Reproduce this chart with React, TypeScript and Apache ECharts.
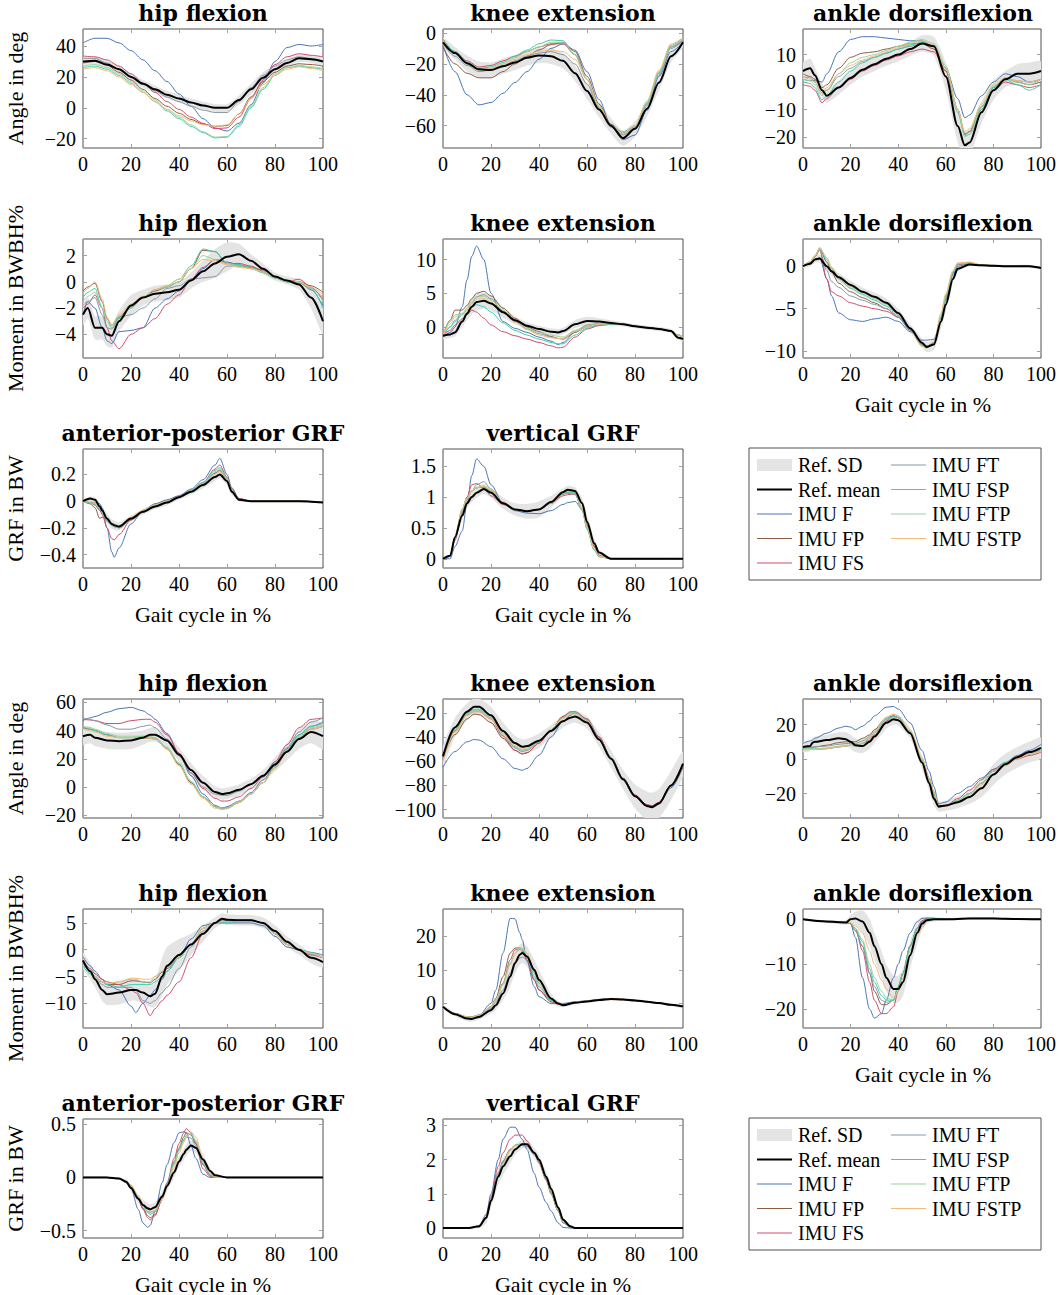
import React, { useEffect, useRef } from "react";
import * as echarts from "echarts";

// ---------- data (x = gait cycle %) ----------
// TOP block
const P1_x = [0, 5, 10, 15, 20, 25, 30, 35, 40, 45, 50, 55, 60, 65, 70, 75, 80, 85, 90, 95, 100];
const P1_mean = [30, 30.5, 28, 25, 20, 15.5, 12, 8.5, 6, 3.5, 1.5, 0, 0, 5, 12, 19.5, 25, 29, 32, 31.5, 30];
const P1_sd = [2.5, 2.5, 2.5, 2.5, 2.5, 2.5, 2.5, 2.5, 2.5, 2.5, 2.5, 2.5, 2.5, 3, 3.5, 3.5, 3, 2.5, 2.5, 2.5, 2.5];
const P1_F = [42, 45, 45, 42, 37, 31, 24, 17, 9, 1, -7, -13, -15, -10, 2, 16, 30, 39, 41, 40, 41];
const P1_FP = [29, 30, 27.5, 23, 18, 12, 6, 1, -3.5, -7.5, -10.5, -12, -11.5, -4, 7, 17, 23, 27, 28.5, 28, 27];
const P1_FS = [33.5, 33, 31, 27, 22, 16, 10, 4, -1, -6, -10, -13.5, -13, -6, 6, 18, 28, 33, 35, 34, 33];
const P1_FT = [32, 32, 29, 25, 20, 16, 11, 7, 4, 1, -1.5, -3, -3, 4, 13, 21, 27, 31, 33, 32, 30];
const P1_FSP = [26, 27, 25, 21, 16, 10, 4, -2, -7, -12, -16, -19.5, -19, -12, 0, 12, 21, 26, 27, 26, 25];
const P1_FTP = [27, 28, 26, 22, 17, 11, 5, -1, -6, -11, -15.5, -19, -18.5, -11, 1, 13, 22, 26, 27.5, 26.5, 25.5];
const P1_FSTP = [25, 26, 24, 20, 15, 10, 4, -1, -5, -8.5, -11, -12, -11, -4, 6, 15, 21, 25, 26.5, 25.5, 24];

const P2_x = [0, 5, 10, 15, 20, 25, 30, 35, 40, 45, 50, 55, 60, 65, 70, 75, 80, 85, 90, 95, 100];
const P2_mean = [-6, -13, -19.5, -23.5, -24, -21.5, -19, -16, -14.5, -15, -18, -26, -37.5, -49.5, -60, -68, -62, -49, -32, -15, -6];
const P2_sd = [3, 4, 5, 5, 5, 5, 5, 5, 5, 5, 5, 5, 5, 5, 5, 5, 5, 5, 5, 4, 3];
const P2_F = [-8, -25, -40, -46.5, -45, -39, -32, -25, -17, -10, -7, -11, -25, -43, -60, -69, -66, -50, -28, -12, -6];
const P2_FP = [-9, -20, -26, -29, -29, -25, -20, -15, -11, -7.5, -6, -12, -28, -46, -59, -65, -61, -46, -26, -9, -5];
const P2_FS = [-4, -12, -18, -22, -21, -18, -15, -12, -9, -7, -7, -14, -30, -48, -60, -65, -61, -46, -26, -9, -4];
const P2_FT = [-7, -15, -21, -25, -24, -21, -18, -15, -13, -12, -14, -20, -33, -49, -61, -66, -62, -47, -27, -10, -5];
const P2_FSP = [-4, -12, -19, -23, -22, -19, -15, -11, -7, -4.5, -5, -14, -30, -48, -60, -64, -60, -45, -25, -8, -3];
const P2_FTP = [-5, -13, -20, -24, -23, -20, -16, -12, -9, -6, -6, -14, -30, -48, -60, -65, -61, -46, -26, -9, -4];
const P2_FSTP = [-5, -13, -20, -24, -23, -20, -17, -14, -12, -11, -12, -17, -30, -47, -60, -65, -60, -44, -24, -7, -3];

const P3_x = [0, 3, 5, 8, 10, 15, 20, 25, 30, 35, 40, 45, 50, 55, 60, 65, 68, 70, 75, 80, 85, 90, 95, 100];
const P3_mean = [4, 5, 2.5, -3, -5, -2, 1.5, 4.5, 6.5, 8.5, 10, 12, 14, 13, 2, -16, -23, -22, -11, -3, 1, 3, 3, 4];
const P3_sd = [3, 3.5, 3, 2.5, 2.5, 2.5, 2.5, 2.5, 2.5, 2.5, 2.5, 2.5, 3, 3.5, 5, 6, 5, 5, 4, 3.5, 3, 3.5, 4, 3.5];
const P3_F = [1, 0.5, 0.5, 0, 3, 11, 15.5, 16.5, 16.5, 16, 15.5, 15, 15, 13, 5, -6, -13, -12, -5, 0, 3, 2, 0, 1];
const P3_FP = [3, 2, 1, -2, -1, 5, 9, 10.5, 11, 12, 13, 14, 14, 12, 4, -10, -19, -18, -9, -2, 1.5, 0, -1, 0];
const P3_FS = [-1, -1.5, -3, -7.5, -6, -2, 1, 4, 6, 8, 9.5, 11, 12, 11, 4, -10, -19, -18, -10, -3, 0, -1, -2, -1];
const P3_FT = [2, 1.5, 0, -4, -3, 2, 5, 7.5, 9, 10.5, 12, 13, 14, 13, 5, -10, -19, -18, -9, -2, 1.5, 0.5, 0, 1];
const P3_FSP = [0, -0.5, -2, -6.5, -5, 0, 4, 7, 9, 10.5, 12, 13.5, 14.5, 13, 5, -11, -19.5, -19, -10, -2, 1, -1, -3, -1];
const P3_FTP = [1, 0.5, -1, -5, -3, 3, 7, 9, 10, 11.5, 13, 14.5, 15.5, 14, 6, -10, -20, -19, -9, -1.5, 1.5, 0, -1, 1];
const P3_FSTP = [2, 1, 0, -4, -2, 3, 6, 8, 9.5, 11, 12.5, 14, 15, 13.5, 5, -10, -18, -17, -8, -1, 1.5, 0.5, 0, 1];

const P4_x = [0, 2, 5, 8, 10, 12, 15, 20, 25, 30, 35, 40, 45, 50, 55, 60, 65, 70, 75, 80, 85, 90, 95, 100];
const P4_mean = [-2.5, -2, -3.5, -3.5, -4, -4.1, -3, -1.8, -1.2, -0.9, -0.8, -0.6, 0.1, 0.8, 1.4, 1.9, 2.1, 1.6, 1, 0.4, 0.1, -0.2, -1.2, -3];
const P4_sd = [0.8, 0.8, 0.9, 0.9, 0.9, 0.9, 0.8, 0.8, 0.6, 0.6, 0.6, 0.6, 0.6, 0.8, 1.1, 1.1, 0.8, 0.5, 0.4, 0.3, 0.3, 0.4, 0.8, 1];
const P4_F = [-2.5, -1.5, -2, -3.5, -4.5, -4.7, -3.8, -3.7, -3.5, -2, -1.3, -0.7, 0.2, 1, 1.7, 1.5, 1.3, 1.1, 0.9, 0.3, 0, 0, -0.6, -1.8];
const P4_FP = [-0.7, -0.4, -0.1, -1.5, -2.8, -3.3, -2.7, -1.9, -1.2, -0.7, -0.4, 0, 1, 2.4, 2.3, 1.4, 1.2, 1.1, 0.8, 0.4, 0.1, 0, -0.3, -0.8];
const P4_FS = [-2, -1.7, -1, -2, -3.5, -4.5, -5.1, -4, -3.5, -2.8, -1.7, -1, 0.2, 1.1, 1.7, 1.4, 1.4, 1.2, 0.8, 0.4, 0, 0.2, -0.4, -1.4];
const P4_FT = [-1.8, -1.5, -1.2, -2.5, -3.5, -3.6, -2.7, -2.5, -2, -1.3, -0.5, -0.3, 0.2, 0.3, 0.4, 1.2, 1.2, 1, 0.7, 0.3, 0, -0.1, -0.5, -1.2];
const P4_FSP = [-1.2, -0.8, -0.5, -2, -3, -3.5, -2.8, -2, -1.2, -0.6, -0.3, 0.2, 1.2, 2.5, 2.3, 1.4, 1.3, 1.1, 0.7, 0.3, 0, 0, -0.5, -2];
const P4_FTP = [-1.5, -1.1, -0.8, -2, -3, -3.3, -2.6, -1.9, -1.2, -0.6, -0.4, 0, 1, 2, 1.7, 1.4, 1.2, 1, 0.7, 0.3, 0, 0, -0.5, -1.5];
const P4_FSTP = [-0.9, -0.5, 0, -1.3, -2.7, -3.3, -2.5, -1.7, -1.1, -0.6, -0.3, 0.2, 1, 1.7, 1.6, 1.3, 1.1, 1, 0.8, 0.4, 0.1, 0, -0.4, -1];

const P5_x = [0, 3, 5, 8, 10, 12, 14, 17, 20, 25, 30, 35, 40, 45, 48, 50, 55, 60, 65, 70, 75, 80, 85, 90, 95, 98, 100];
const P5_mean = [-1.3, -1.1, -0.8, 0.8, 2, 3, 3.7, 3.9, 3.5, 2.2, 1, 0.2, -0.3, -0.7, -0.8, -0.6, 0.4, 0.9, 0.8, 0.6, 0.4, 0.1, -0.1, -0.3, -0.6, -1.6, -1.8];
const P5_sd = [0.5, 0.5, 0.6, 0.8, 1, 1.2, 1.3, 1.2, 1.1, 0.8, 0.6, 0.5, 0.5, 0.5, 0.5, 0.5, 0.6, 0.6, 0.5, 0.4, 0.3, 0.3, 0.3, 0.3, 0.3, 0.3, 0.3];
const P5_F = [-1.5, -0.8, 0, 3, 7, 10.5, 12, 10, 5, 0.8, -0.2, -0.8, -1.5, -2.1, -2.6, -2.3, -0.8, 0, 0.3, 0.5, 0.4, 0.1, -0.1, -0.3, -0.6, -1.2, -1.5];
const P5_FP = [-1.2, 1, 2.5, 2.5, 3.2, 4.2, 5, 5.3, 4.6, 2.8, 1.3, 0, -0.7, -1.4, -1.7, -1.8, -0.8, 0.2, 0.5, 0.5, 0.4, 0.1, -0.1, -0.3, -0.6, -1.2, -1.5];
const P5_FS = [-1.2, -0.5, 0.3, 1.2, 1.8, 2.5, 2.2, 1.3, 0.3, -0.7, -1.3, -1.8, -2.3, -2.8, -3.1, -3, -1.5, -0.3, 0.2, 0.4, 0.4, 0.1, -0.1, -0.3, -0.6, -1.2, -1.5];
const P5_FT = [-1.3, 0, 1, 2, 2.5, 3.5, 4.5, 4.8, 4.2, 2.3, 0.8, -0.3, -1, -1.5, -1.7, -1.7, -0.6, 0.3, 0.5, 0.5, 0.4, 0.1, -0.1, -0.3, -0.6, -1.2, -1.5];
const P5_FSP = [-1.3, 0, 0.8, 1.8, 2.5, 3, 3.3, 3, 2.2, 0.6, -0.5, -1.2, -1.8, -2.3, -2.5, -2.5, -1.2, -0.2, 0.3, 0.4, 0.4, 0.1, -0.1, -0.3, -0.6, -1.2, -1.5];
const P5_FTP = [-1.2, 0.8, 1.8, 2, 2.8, 3.8, 4.4, 4.6, 4, 2.5, 1, -0.2, -0.8, -1.2, -1.4, -1.5, -0.5, 0.2, 0.5, 0.5, 0.4, 0.1, -0.1, -0.3, -0.6, -1.2, -1.5];
const P5_FSTP = [-1.3, 0.5, 1.5, 2, 2.5, 3.5, 4.1, 4.3, 3.7, 2.2, 0.7, -0.4, -1.2, -1.6, -1.7, -1.7, -0.7, 0, 0.4, 0.5, 0.4, 0.1, -0.1, -0.3, -0.6, -1.2, -1.5];

const P6_x = [0, 3, 5, 7, 10, 12, 15, 20, 25, 30, 35, 40, 45, 50, 52, 55, 58, 60, 63, 65, 70, 75, 80, 85, 90, 95, 100];
const P6_mean = [0, 0.3, 0.8, 0.9, 0, -0.6, -1.3, -2.2, -3, -3.6, -4.3, -5.5, -7.3, -9, -9.5, -9.2, -6.5, -4.5, -1.5, -0.3, 0.2, 0.1, 0.05, 0, 0, 0, -0.2];
const P6_sd = [0.2, 0.3, 0.4, 0.5, 0.5, 0.5, 0.5, 0.5, 0.5, 0.5, 0.5, 0.5, 0.5, 0.5, 0.6, 0.7, 0.8, 0.8, 0.5, 0.3, 0.2, 0.15, 0.15, 0.15, 0.15, 0.15, 0.15];
const P6_F = [0, 0.4, 0.8, 1, -1.5, -3.5, -5.5, -6.3, -6.5, -6.2, -6, -6.5, -7.7, -8.7, -8.7, -8.6, -6.5, -4, -1, 0, 0.3, 0.1, 0.05, 0, 0, 0, -0.2];
const P6_FP = [0, 0.5, 1.2, 2.1, 0.5, -0.7, -2, -3, -3.7, -4.3, -5, -6, -7.5, -9.3, -9.5, -9, -6, -3.7, -0.8, 0.2, 0.4, 0.1, 0.05, 0, 0, 0, -0.2];
const P6_FS = [0, 0.5, 1.1, 1.9, -1.5, -3, -3.5, -4.3, -4.7, -5, -5.3, -6, -7.5, -9.2, -9.4, -9, -6, -3.5, -0.8, 0.2, 0.4, 0.1, 0.05, 0, 0, 0, -0.2];
const P6_FT = [0, 0.5, 1.1, 1.9, -0.5, -1.8, -2.5, -3.5, -4, -4.5, -5, -6, -7.5, -9.2, -9.4, -9.2, -6, -3.5, -0.8, 0.2, 0.4, 0.1, 0.05, 0, 0, 0, -0.2];
const P6_FSP = [0, 0.5, 1.2, 2.1, 0.8, -0.3, -1.5, -2.6, -3.3, -4, -4.7, -5.8, -7.4, -9.4, -9.6, -9.2, -6, -3.6, -0.7, 0.3, 0.4, 0.1, 0.05, 0, 0, 0, -0.2];
const P6_FTP = [0, 0.5, 1.2, 2.2, 1, -0.2, -1.3, -2.4, -3.1, -3.8, -4.5, -5.6, -7.3, -9.4, -9.6, -9.2, -5.8, -3.4, -0.6, 0.3, 0.4, 0.1, 0.05, 0, 0, 0, -0.2];
const P6_FSTP = [0, 0.5, 1.2, 2.1, 1, -0.1, -1.2, -2.3, -3, -3.6, -4.4, -5.6, -7.3, -9.4, -9.6, -9, -5.5, -3.2, -0.5, 0.4, 0.5, 0.15, 0.05, 0, 0, 0, -0.2];

const P7_x = [0, 3, 5, 7, 8, 10, 12, 13, 15, 20, 25, 30, 35, 40, 45, 50, 55, 57, 60, 62, 65, 70, 80, 90, 100];
const P7_mean = [0, 0.02, 0.01, -0.04, -0.07, -0.13, -0.17, -0.18, -0.19, -0.13, -0.08, -0.04, -0.01, 0.03, 0.07, 0.12, 0.18, 0.2, 0.15, 0.07, 0.01, 0, 0, 0, -0.01];
const P7_sd = [0.01, 0.015, 0.02, 0.03, 0.03, 0.035, 0.035, 0.035, 0.03, 0.025, 0.02, 0.02, 0.02, 0.02, 0.02, 0.025, 0.03, 0.03, 0.03, 0.02, 0.01, 0.005, 0.005, 0.005, 0.005];
const P7_F = [0, -0.01, -0.01, -0.02, -0.05, -0.2, -0.38, -0.42, -0.35, -0.17, -0.07, -0.02, 0.01, 0.04, 0.09, 0.16, 0.27, 0.32, 0.2, 0.1, 0.02, 0, 0, 0, -0.01];
const P7_FP = [0, -0.02, -0.05, -0.13, -0.12, -0.14, -0.18, -0.19, -0.2, -0.14, -0.08, -0.04, -0.01, 0.03, 0.08, 0.13, 0.21, 0.23, 0.16, 0.07, 0.01, 0, 0, 0, -0.01];
const P7_FS = [0, -0.01, -0.03, -0.07, -0.1, -0.2, -0.28, -0.29, -0.25, -0.14, -0.07, -0.03, 0, 0.03, 0.08, 0.14, 0.24, 0.27, 0.18, 0.09, 0.02, 0, 0, 0, -0.01];
const P7_FT = [0, -0.01, -0.03, -0.06, -0.09, -0.15, -0.18, -0.19, -0.19, -0.13, -0.07, -0.03, 0, 0.03, 0.08, 0.13, 0.21, 0.23, 0.16, 0.07, 0.01, 0, 0, 0, -0.01];
const P7_FSP = [0, -0.01, -0.02, -0.05, -0.08, -0.14, -0.18, -0.19, -0.2, -0.13, -0.07, -0.03, 0, 0.03, 0.08, 0.14, 0.23, 0.25, 0.17, 0.08, 0.01, 0, 0, 0, -0.01];
const P7_FTP = [0, -0.01, -0.02, -0.05, -0.08, -0.14, -0.18, -0.19, -0.19, -0.13, -0.07, -0.03, 0, 0.03, 0.08, 0.13, 0.22, 0.24, 0.17, 0.08, 0.01, 0, 0, 0, -0.01];
const P7_FSTP = [0, 0, -0.01, -0.04, -0.07, -0.13, -0.17, -0.18, -0.19, -0.12, -0.07, -0.03, 0, 0.03, 0.07, 0.13, 0.2, 0.22, 0.16, 0.08, 0.01, 0, 0, 0, -0.01];

const P8_x = [0, 3, 5, 8, 10, 12, 14, 17, 20, 25, 30, 35, 40, 45, 50, 52, 55, 58, 60, 63, 65, 70, 80, 90, 100];
const P8_mean = [0, 0.05, 0.35, 0.7, 0.9, 1.0, 1.07, 1.13, 1.07, 0.9, 0.8, 0.77, 0.8, 0.92, 1.08, 1.12, 1.1, 0.9, 0.6, 0.25, 0.1, 0, 0, 0, 0];
const P8_sd = [0.01, 0.03, 0.06, 0.08, 0.08, 0.08, 0.08, 0.08, 0.08, 0.09, 0.1, 0.12, 0.13, 0.1, 0.06, 0.06, 0.06, 0.08, 0.1, 0.08, 0.05, 0.01, 0.01, 0.01, 0.01];
const P8_F = [0, 0, 0.2, 0.45, 0.9, 1.35, 1.62, 1.5, 1.2, 0.9, 0.78, 0.74, 0.73, 0.78, 0.88, 0.91, 0.93, 0.8, 0.55, 0.2, 0.05, 0, 0, 0, 0];
const P8_FP = [0, 0.05, 0.35, 0.8, 1.0, 1.1, 1.15, 1.17, 1.1, 0.9, 0.79, 0.77, 0.8, 0.9, 1.05, 1.08, 1.07, 0.8, 0.5, 0.15, 0.04, 0, 0, 0, 0];
const P8_FS = [0, 0.05, 0.3, 0.75, 1.0, 1.2, 1.22, 1.15, 1.02, 0.88, 0.8, 0.77, 0.8, 0.9, 1.02, 1.04, 1.05, 0.8, 0.55, 0.2, 0.05, 0, 0, 0, 0];
const P8_FT = [0, 0.05, 0.35, 0.75, 0.95, 1.1, 1.2, 1.25, 1.13, 0.92, 0.8, 0.77, 0.8, 0.9, 1.05, 1.06, 1.05, 0.8, 0.5, 0.15, 0.04, 0, 0, 0, 0];
const P8_FSP = [0, 0.05, 0.35, 0.8, 0.98, 1.1, 1.15, 1.17, 1.1, 0.9, 0.79, 0.77, 0.8, 0.9, 1.05, 1.08, 1.07, 0.78, 0.48, 0.14, 0.03, 0, 0, 0, 0];
const P8_FTP = [0, 0.05, 0.35, 0.8, 0.98, 1.1, 1.16, 1.18, 1.1, 0.9, 0.79, 0.77, 0.8, 0.9, 1.06, 1.09, 1.08, 0.8, 0.5, 0.15, 0.04, 0, 0, 0, 0];
const P8_FSTP = [0, 0.05, 0.35, 0.8, 0.98, 1.1, 1.15, 1.18, 1.12, 0.92, 0.8, 0.77, 0.8, 0.91, 1.07, 1.1, 1.1, 0.82, 0.52, 0.16, 0.04, 0, 0, 0, 0];

// BOTTOM block
const P9_x = [0, 3, 5, 10, 15, 20, 25, 28, 30, 35, 40, 45, 50, 55, 58, 60, 65, 70, 75, 80, 85, 90, 95, 100];
const P9_mean = [36, 37, 35, 33, 32.5, 33, 35, 37, 37, 33, 23, 12, 3, -3.5, -5, -4.5, -2, 2, 8, 16, 25, 34, 39, 36];
const P9_sd = [6, 6, 6, 6, 6, 6, 5, 5, 5, 5, 5, 5, 5, 4, 4, 4, 4, 4, 4, 5, 6, 7, 8, 9];
const P9_F = [47, 49, 50, 53, 55.5, 56.5, 54, 51, 48, 38, 24, 8, -5, -13, -15, -14, -10, -4, 5, 15, 27, 37, 43, 46];
const P9_FP = [42, 41, 40, 37, 35, 35, 35, 34.5, 34, 27, 16, 3, -7, -14, -15, -15, -11, -5, 3, 14, 25, 35, 41, 43];
const P9_FS = [48, 47.5, 47, 45, 45, 47, 48, 48, 46, 37, 24, 10, -1, -8, -10, -10, -7, -1, 7, 18, 30, 42, 48, 49];
const P9_FT = [49, 48, 47, 44, 41, 41, 43, 44, 42, 34, 22, 10, 0, -5, -6, -6, -3, 2, 8, 17, 28, 39, 46, 49];
const P9_FSP = [43, 41, 40, 37, 35, 35, 36, 35.5, 35, 28, 17, 4, -7, -14, -16, -15, -11, -5, 3, 14, 26, 37, 43, 45];
const P9_FTP = [43, 42, 41, 38, 36, 36, 36, 35.5, 35, 28, 17, 4, -7, -14, -15, -15, -10, -5, 3, 14, 26, 36, 42, 44];
const P9_FSTP = [41, 40, 39, 36, 35, 35, 35, 34.5, 34, 27, 15, 2, -8, -15, -16, -15.5, -11, -5, 3, 13, 25, 35, 41, 43];

const P10_x = [0, 5, 10, 13, 15, 20, 25, 30, 33, 35, 40, 45, 50, 53, 55, 60, 65, 70, 75, 80, 85, 87, 90, 95, 100];
const P10_mean = [-56, -32, -19, -15, -15, -22, -35, -45, -48, -47.5, -43, -35, -27, -24, -23, -28, -42, -58, -75, -89, -97, -98, -95, -80, -62];
const P10_sd = [8, 8, 7, 7, 7, 7, 7, 6, 6, 6, 6, 5, 5, 5, 5, 5, 6, 7, 8, 10, 12, 12, 12, 12, 10];
const P10_F = [-65, -52, -44, -42, -42.5, -48, -58, -66, -67.5, -66, -55, -40, -27, -22, -20, -26, -40, -57, -74, -89, -97, -98, -95, -82, -65];
const P10_FP = [-58, -38, -25, -21, -21.5, -28, -41, -51, -54, -53, -45, -34, -23, -20, -20, -25, -40, -57, -74, -88, -96, -97, -94, -80, -64];
const P10_FS = [-57, -35, -22, -19, -19, -25, -39, -51, -54, -53, -45, -34, -23, -19, -19, -25, -40, -57, -74, -88, -96, -97, -94, -80, -64];
const P10_FT = [-57, -34, -21, -18, -18, -24, -37, -49, -52, -51, -44, -34, -24, -20, -20, -26, -41, -57, -74, -89, -97, -98, -95, -81, -63];
const P10_FSP = [-57, -34, -20, -17, -17, -24, -37, -48, -51, -50, -44, -34, -24, -20, -20, -26, -41, -57, -74, -89, -97, -98, -95, -81, -63];
const P10_FTP = [-57, -34, -21, -18, -18, -24, -37, -48, -51, -50, -44, -34, -24, -20, -20, -26, -41, -57, -74, -89, -97, -98, -95, -81, -63];
const P10_FSTP = [-60, -36, -22, -19, -19, -25, -37, -47, -50, -49, -43, -34, -25, -21, -21, -27, -42, -58, -75, -89, -97, -98, -95, -81, -63];

const P11_x = [0, 3, 5, 8, 10, 15, 20, 22, 25, 28, 30, 33, 35, 40, 45, 50, 55, 58, 60, 65, 70, 75, 80, 85, 90, 95, 100];
const P11_mean = [-2, -4, -5.5, -7.5, -8.3, -8, -7.5, -7.5, -8, -8.7, -8.2, -5, -3, -1, 1, 3, 5, 5.8, 5.6, 5.5, 5.5, 5, 3.5, 1.5, 0, -1.5, -2.3];
const P11_sd = [1.5, 1.5, 1.5, 2, 2, 2.2, 2, 2, 2, 2, 2.5, 3.5, 3.5, 3, 2, 1.5, 1, 1, 1, 1, 1, 1, 1, 1, 1, 1, 1];
const P11_F = [-1.3, -3, -4, -5.5, -6.5, -7.5, -10.5, -11.7, -10, -8.5, -7.5, -5.5, -4, -1.5, 2, 4.5, 5, 5, 5, 5, 5, 4.5, 2.5, 0.5, 0, -0.5, -1];
const P11_FP = [-2.5, -4, -5, -6, -6.5, -6.5, -5.8, -5.8, -6, -6.2, -5.5, -4.2, -3.5, -1.5, 1, 4, 5, 5.3, 5.3, 5.5, 5.5, 5, 3, 1, 0, -0.8, -1.5];
const P11_FS = [-2, -3.5, -4.5, -5.5, -6, -6.5, -7.5, -8, -10, -12.3, -11, -9.5, -8.5, -6, -1.5, 3, 5, 5.5, 5.5, 5.5, 5.5, 5, 3, 1, 0, -1, -1.5];
const P11_FT = [-2.5, -4, -5, -6.5, -7, -7, -7, -7.5, -9.5, -10, -9.5, -8, -7, -3.5, 0.5, 3.5, 5, 5.5, 5.5, 5.5, 5.5, 5, 3, 1, 0, -0.8, -1.5];
const P11_FSP = [-3, -4.5, -5, -6, -6.5, -7, -6.5, -6.5, -6.5, -6.5, -6, -5, -4, -1.5, 1, 4, 5, 5, 5, 5.5, 5.5, 5, 3, 1, 0, -0.5, -1.5];
const P11_FTP = [-2.5, -4, -5, -6, -6.3, -6, -5.5, -5.5, -6, -6, -5, -4, -3.3, -1.5, 1, 4, 5, 5.3, 5.3, 5.5, 5.5, 5, 3, 1, 0, -0.7, -1.5];
const P11_FSTP = [-2.5, -4, -5, -6, -6.3, -6, -5.3, -5.3, -5.5, -5.5, -5, -4, -3, -1.2, 1, 4, 5, 5.3, 5.3, 5.5, 5.5, 5, 3, 1, 0, -0.7, -1.5];

const P12_x = [0, 5, 10, 12, 15, 20, 22, 25, 28, 30, 32, 33, 35, 38, 40, 45, 48, 50, 55, 60, 65, 70, 75, 80, 85, 90, 95, 100];
const P12_mean = [-1, -3.2, -4.5, -4.6, -4, -2, -0.5, 3, 8, 12, 14.5, 15, 14, 10, 7, 1.5, 0, -0.5, 0.2, 0.6, 1, 1.3, 1.2, 0.9, 0.5, 0.1, -0.4, -0.9];
const P12_sd = [0.5, 0.6, 0.8, 0.8, 0.8, 1, 1.5, 2, 3, 3, 3, 3, 3, 3, 3, 1.5, 0.8, 0.6, 0.4, 0.4, 0.4, 0.4, 0.4, 0.4, 0.4, 0.4, 0.4, 0.4];
const P12_F = [-1, -3, -4.3, -4.3, -3.5, 0, 4, 15, 25.3, 25.2, 21, 19, 12.5, 5, 2, 0, 0, 0, 0.5, 0.8, 1.2, 1.4, 1.2, 0.9, 0.5, 0.1, -0.4, -0.9];
const P12_FP = [-1, -3, -4, -4, -3.4, -1, 1.5, 8, 15, 16.5, 16.5, 16, 13, 7, 4, 0.5, -0.2, -0.3, 0.3, 0.7, 1.1, 1.4, 1.2, 0.9, 0.5, 0.1, -0.4, -0.9];
const P12_FS = [-1, -3, -4, -4, -3.5, -1, 1, 6, 13, 16, 16, 15.5, 13, 7, 4, 1, 0, -0.3, 0.3, 0.7, 1.1, 1.4, 1.2, 0.9, 0.5, 0.1, -0.4, -0.9];
const P12_FT = [-1, -3.2, -4.3, -4.4, -3.8, -1.5, 0.5, 4, 9, 12, 13.5, 13.8, 13, 9, 6, 1, 0, -0.3, 0.3, 0.7, 1.1, 1.4, 1.2, 0.9, 0.5, 0.1, -0.4, -0.9];
const P12_FSP = [-1, -3, -4, -4.1, -3.5, -1, 1, 6, 12, 15, 16.3, 16.2, 14, 8, 5, 1, 0, -0.3, 0.3, 0.7, 1.1, 1.4, 1.2, 0.9, 0.5, 0.1, -0.4, -0.9];
const P12_FTP = [-1, -3, -4, -4.1, -3.5, -1, 1, 5.5, 11.5, 15, 16.5, 16.5, 15, 9, 6, 1.2, 0, -0.3, 0.3, 0.7, 1.1, 1.4, 1.2, 0.9, 0.5, 0.1, -0.4, -0.9];
const P12_FSTP = [-1, -3, -4, -4.1, -3.5, -1, 1, 5.5, 11.5, 15, 16, 16, 15, 9.5, 6.5, 1.3, 0, -0.3, 0.3, 0.7, 1.1, 1.5, 1.3, 0.9, 0.5, 0.1, -0.4, -0.9];

const P13_x = [0, 3, 4, 5, 10, 15, 18, 20, 22, 25, 28, 30, 35, 38, 40, 45, 50, 53, 55, 57, 60, 65, 70, 75, 80, 85, 90, 95, 100];
const P13_mean = [7, 7.5, 9.5, 10, 11, 12, 11.5, 10, 8, 7.5, 10, 13, 21, 23, 22.5, 15, -2, -14, -23, -27.5, -27, -25, -22, -17, -9, -3, 1, 4, 6.5];
const P13_sd = [3, 3, 3, 3, 3, 3.5, 4, 4, 4, 4, 4, 4, 3.5, 3, 3, 3, 4, 4, 4, 3, 3, 3.5, 4, 5, 6, 6, 6, 6, 6];
const P13_F = [9, 10.5, 11, 12, 15, 18, 19, 18.5, 17, 19, 22, 25, 30, 30.5, 29, 21, 5, -7, -16, -26, -25, -20, -16, -11, -6, -2, 2, 5, 8.5];
const P13_FP = [6, 6.5, 6.8, 7, 8, 9.5, 10, 10, 10, 12, 14, 17, 24, 25, 24, 16, 0, -11, -19, -27, -27, -24, -20, -14, -7, -3, 1, 3, 5];
const P13_FS = [6, 6, 5.8, 5.5, 6, 7, 7.5, 8, 8, 9, 11, 14, 22, 25, 24, 15, -2, -13, -21, -28, -27, -23, -18, -12, -6, -3, 0, 2, 4];
const P13_FT = [6, 6.5, 7, 7, 7.5, 8.5, 9, 9, 9, 10.5, 13, 16, 23, 24.5, 24, 16, 0, -12, -20, -27, -27, -24, -20, -14, -7, -2.5, 1, 3.5, 5];
const P13_FSP = [6, 6, 6, 6, 6, 7, 7.5, 8, 7.5, 9, 12, 15, 23, 25, 24, 15, -1, -13, -21, -28, -27, -24, -20, -14, -7, -2, 1, 3, 5];
const P13_FTP = [6, 6, 6, 6, 6.5, 7.5, 8, 8, 7.5, 9.5, 13, 16, 24, 26, 25, 16, 0, -12, -20, -27.5, -27, -24, -20, -14, -7, -2.5, 1, 3, 5];
const P13_FSTP = [5, 5.5, 5.5, 5.5, 6, 7, 7.5, 8, 8, 9, 12.5, 16, 24, 26, 25, 17, 1, -11, -19, -27, -27.5, -25, -21, -15, -9, -4, 0, 3, 4.5];

const P14_x = [0, 10, 18, 20, 22, 25, 28, 30, 33, 35, 38, 40, 42, 45, 48, 50, 52, 55, 60, 70, 80, 90, 100];
const P14_mean = [0, -0.5, -0.7, 0, 0.2, -0.5, -3, -6, -10, -13, -15.5, -15.5, -14, -8, -3, -1, -0.2, 0, 0, 0.2, 0.2, 0.1, 0];
const P14_sd = [0.2, 0.3, 0.5, 1, 1.5, 2.5, 3, 3, 3, 3, 3, 3, 3, 3, 2.5, 1.5, 0.8, 0.5, 0.3, 0.2, 0.2, 0.2, 0.2];
const P14_F = [0, -0.5, -0.7, -1, -4, -13, -20, -22, -21, -18, -13, -10, -7, -3, -0.5, 0.2, 0.3, 0.2, 0, 0.2, 0.2, 0.1, 0];
const P14_FP = [0, -0.5, -0.7, -1, -2.5, -6, -12, -16, -19, -19, -18, -15, -12, -6, -2, -0.5, 0.2, 0.2, 0, 0.2, 0.2, 0.1, 0];
const P14_FS = [0, -0.5, -0.7, -0.8, -2, -7, -14, -18, -21, -21, -19.5, -16, -12, -6, -2, -0.3, 0.2, 0.2, 0, 0.2, 0.2, 0.1, 0];
const P14_FT = [0, -0.5, -0.7, -0.8, -2.5, -6, -12, -15, -18, -18.5, -18, -15, -12, -6, -2, -0.5, 0.2, 0.2, 0, 0.2, 0.2, 0.1, 0];
const P14_FSP = [0, -0.5, -0.7, -0.8, -2, -5, -11, -14, -17, -18, -18, -15, -12, -6, -2, -1, 0, 0.2, 0, 0.2, 0.2, 0.1, 0];
const P14_FTP = [0, -0.5, -0.7, -0.8, -2, -4.5, -10, -13, -16, -17.5, -18, -16, -13, -7, -2.5, -1.5, -0.3, 0, 0, 0.2, 0.2, 0.1, 0];
const P14_FSTP = [0, -0.5, -0.7, -0.7, -1.5, -3, -7, -10, -13.5, -15.5, -17.5, -16, -13.5, -8, -3.5, -2, -0.5, 0, 0, 0.2, 0.2, 0.1, 0];

const P15_x = [0, 10, 15, 18, 20, 23, 25, 27, 28, 30, 33, 35, 38, 40, 42, 43, 45, 47, 50, 53, 55, 60, 70, 80, 90, 100];
const P15_mean = [0, 0, -0.01, -0.04, -0.1, -0.2, -0.26, -0.29, -0.3, -0.28, -0.18, -0.08, 0.05, 0.15, 0.22, 0.26, 0.3, 0.28, 0.17, 0.06, 0.02, 0, 0, 0, 0, 0];
const P15_sd = [0.005, 0.005, 0.01, 0.02, 0.03, 0.04, 0.05, 0.05, 0.05, 0.05, 0.05, 0.05, 0.05, 0.05, 0.05, 0.05, 0.05, 0.05, 0.05, 0.03, 0.02, 0.005, 0.005, 0.005, 0.005, 0.005];
const P15_F = [0, 0, -0.01, -0.05, -0.1, -0.3, -0.43, -0.47, -0.45, -0.32, -0.05, 0.12, 0.33, 0.42, 0.43, 0.42, 0.3, 0.18, 0.03, 0, 0, 0, 0, 0, 0, 0];
const P15_FP = [0, 0, -0.01, -0.04, -0.08, -0.2, -0.29, -0.36, -0.38, -0.35, -0.2, -0.07, 0.15, 0.28, 0.38, 0.42, 0.4, 0.32, 0.12, 0.02, 0, 0, 0, 0, 0, 0];
const P15_FS = [0, 0, -0.01, -0.04, -0.08, -0.2, -0.3, -0.38, -0.4, -0.36, -0.2, -0.05, 0.18, 0.32, 0.42, 0.46, 0.42, 0.32, 0.08, 0.01, 0, 0, 0, 0, 0, 0];
const P15_FT = [0, 0, -0.01, -0.04, -0.08, -0.19, -0.27, -0.32, -0.33, -0.31, -0.19, -0.08, 0.13, 0.26, 0.35, 0.38, 0.37, 0.3, 0.12, 0.02, 0, 0, 0, 0, 0, 0];
const P15_FSP = [0, 0, -0.01, -0.04, -0.08, -0.19, -0.27, -0.33, -0.35, -0.32, -0.19, -0.07, 0.14, 0.27, 0.36, 0.39, 0.41, 0.34, 0.14, 0.03, 0, 0, 0, 0, 0, 0];
const P15_FTP = [0, 0, -0.01, -0.04, -0.08, -0.18, -0.26, -0.32, -0.33, -0.31, -0.19, -0.08, 0.12, 0.25, 0.34, 0.38, 0.41, 0.35, 0.15, 0.03, 0, 0, 0, 0, 0, 0];
const P15_FSTP = [0, 0, -0.01, -0.04, -0.07, -0.17, -0.25, -0.3, -0.32, -0.31, -0.2, -0.09, 0.1, 0.23, 0.33, 0.38, 0.43, 0.38, 0.18, 0.04, 0.01, 0, 0, 0, 0, 0];

const P16_x = [0, 10, 15, 18, 20, 23, 25, 28, 30, 33, 35, 38, 40, 43, 45, 48, 50, 53, 55, 60, 70, 80, 90, 100];
const P16_mean = [0, 0, 0.05, 0.3, 0.8, 1.5, 1.8, 2.1, 2.3, 2.45, 2.45, 2.2, 2, 1.5, 1.15, 0.6, 0.25, 0.05, 0, 0, 0, 0, 0, 0];
const P16_sd = [0.01, 0.01, 0.05, 0.15, 0.2, 0.25, 0.25, 0.2, 0.15, 0.12, 0.12, 0.15, 0.15, 0.15, 0.15, 0.1, 0.06, 0.02, 0.01, 0.01, 0.01, 0.01, 0.01, 0.01];
const P16_F = [0, 0, 0.05, 0.4, 1.0, 2.0, 2.6, 2.95, 2.95, 2.6, 2.3, 1.6, 1.2, 0.75, 0.5, 0.15, 0.02, 0, 0, 0, 0, 0, 0, 0];
const P16_FP = [0, 0, 0.03, 0.3, 0.8, 1.6, 1.95, 2.3, 2.42, 2.45, 2.4, 2.2, 1.95, 1.45, 1.05, 0.5, 0.2, 0.03, 0, 0, 0, 0, 0, 0];
const P16_FS = [0, 0, 0.03, 0.3, 0.9, 1.8, 2.2, 2.6, 2.72, 2.72, 2.55, 2.2, 1.9, 1.4, 1.0, 0.5, 0.15, 0.03, 0, 0, 0, 0, 0, 0];
const P16_FT = [0, 0, 0.03, 0.3, 0.8, 1.6, 1.95, 2.3, 2.42, 2.42, 2.38, 2.15, 1.95, 1.45, 1.05, 0.5, 0.2, 0.03, 0, 0, 0, 0, 0, 0];
const P16_FSP = [0, 0, 0.03, 0.28, 0.78, 1.55, 1.9, 2.28, 2.42, 2.47, 2.42, 2.2, 1.95, 1.45, 1.05, 0.5, 0.18, 0.03, 0, 0, 0, 0, 0, 0];
const P16_FTP = [0, 0, 0.03, 0.28, 0.78, 1.55, 1.9, 2.28, 2.42, 2.46, 2.42, 2.2, 1.97, 1.48, 1.08, 0.52, 0.2, 0.03, 0, 0, 0, 0, 0, 0];
const P16_FSTP = [0, 0, 0.03, 0.27, 0.75, 1.5, 1.85, 2.25, 2.4, 2.45, 2.42, 2.22, 2, 1.5, 1.1, 0.55, 0.22, 0.04, 0, 0, 0, 0, 0, 0];

// ---------- labels & styling ----------
const X_TICKS = [0, 20, 40, 60, 80, 100];
const IMU_NAMES = ["IMU F", "IMU FP", "IMU FS", "IMU FT", "IMU FSP", "IMU FTP", "IMU FSTP"];
const IMU_COLORS = ["#4a76b6", "#8d5c43", "#d24d69", "#8798a5", "#3fcfae", "#9ad39a", "#f3bb78"];
const SD_COLOR = "#e4e4e4";
const ROW_LABELS = ["Angle in deg", "Moment in BWBH%", "GRF in BW", "Angle in deg", "Moment in BWBH%", "GRF in BW"];
const X_LABEL = "Gait cycle in %";

const COL_X = [83, 443, 803];
const ROW_Y = [29, 239, 449, 699, 909, 1119];
const PW = 240;
const PH = 119;

type Panel = {
  title: string; col: number; row: number; x: number[]; mean: number[]; sd: number[];
  lines: number[][]; yr: [number, number, number]; xlabel?: boolean;
};

const PANELS: Panel[] = [
  { title: "hip flexion", col: 0, row: 0, x: P1_x, mean: P1_mean, sd: P1_sd, lines: [P1_F, P1_FP, P1_FS, P1_FT, P1_FSP, P1_FTP, P1_FSTP], yr: [-26, 51, 20] },
  { title: "knee extension", col: 1, row: 0, x: P2_x, mean: P2_mean, sd: P2_sd, lines: [P2_F, P2_FP, P2_FS, P2_FT, P2_FSP, P2_FTP, P2_FSTP], yr: [-74.4, 2.6, 20] },
  { title: "ankle dorsiflexion", col: 2, row: 0, x: P3_x, mean: P3_mean, sd: P3_sd, lines: [P3_F, P3_FP, P3_FS, P3_FT, P3_FSP, P3_FTP, P3_FSTP], yr: [-24, 19.3, 10] },
  { title: "hip flexion", col: 0, row: 1, x: P4_x, mean: P4_mean, sd: P4_sd, lines: [P4_F, P4_FP, P4_FS, P4_FT, P4_FSP, P4_FTP, P4_FSTP], yr: [-5.8, 3.26, 2] },
  { title: "knee extension", col: 1, row: 1, x: P5_x, mean: P5_mean, sd: P5_sd, lines: [P5_F, P5_FP, P5_FS, P5_FT, P5_FSP, P5_FTP, P5_FSTP], yr: [-4.6, 13.05, 5] },
  { title: "ankle dorsiflexion", col: 2, row: 1, x: P6_x, mean: P6_mean, sd: P6_sd, lines: [P6_F, P6_FP, P6_FS, P6_FT, P6_FSP, P6_FTP, P6_FSTP], yr: [-10.8, 3.2, 5], xlabel: true },
  { title: "anterior-posterior GRF", col: 0, row: 2, x: P7_x, mean: P7_mean, sd: P7_sd, lines: [P7_F, P7_FP, P7_FS, P7_FT, P7_FSP, P7_FTP, P7_FSTP], yr: [-0.5, 0.39, 0.2], xlabel: true },
  { title: "vertical GRF", col: 1, row: 2, x: P8_x, mean: P8_mean, sd: P8_sd, lines: [P8_F, P8_FP, P8_FS, P8_FT, P8_FSP, P8_FTP, P8_FSTP], yr: [-0.15, 1.78, 0.5], xlabel: true },
  { title: "hip flexion", col: 0, row: 3, x: P9_x, mean: P9_mean, sd: P9_sd, lines: [P9_F, P9_FP, P9_FS, P9_FT, P9_FSP, P9_FTP, P9_FSTP], yr: [-22, 62.4, 20] },
  { title: "knee extension", col: 1, row: 3, x: P10_x, mean: P10_mean, sd: P10_sd, lines: [P10_F, P10_FP, P10_FS, P10_FT, P10_FSP, P10_FTP, P10_FSTP], yr: [-107, -8.5, 20] },
  { title: "ankle dorsiflexion", col: 2, row: 3, x: P13_x, mean: P13_mean, sd: P13_sd, lines: [P13_F, P13_FP, P13_FS, P13_FT, P13_FSP, P13_FTP, P13_FSTP], yr: [-34.2, 34.8, 20] },
  { title: "hip flexion", col: 0, row: 4, x: P11_x, mean: P11_mean, sd: P11_sd, lines: [P11_F, P11_FP, P11_FS, P11_FT, P11_FSP, P11_FTP, P11_FSTP], yr: [-14.6, 7.6, 5] },
  { title: "knee extension", col: 1, row: 4, x: P12_x, mean: P12_mean, sd: P12_sd, lines: [P12_F, P12_FP, P12_FS, P12_FT, P12_FSP, P12_FTP, P12_FSTP], yr: [-7.3, 28.1, 10] },
  { title: "ankle dorsiflexion", col: 2, row: 4, x: P14_x, mean: P14_mean, sd: P14_sd, lines: [P14_F, P14_FP, P14_FS, P14_FT, P14_FSP, P14_FTP, P14_FSTP], yr: [-24.2, 2.3, 10], xlabel: true },
  { title: "anterior-posterior GRF", col: 0, row: 5, x: P15_x, mean: P15_mean, sd: P15_sd, lines: [P15_F, P15_FP, P15_FS, P15_FT, P15_FSP, P15_FTP, P15_FSTP], yr: [-0.57, 0.55, 0.5], xlabel: true },
  { title: "vertical GRF", col: 1, row: 5, x: P16_x, mean: P16_mean, sd: P16_sd, lines: [P16_F, P16_FP, P16_FS, P16_FT, P16_FSP, P16_FTP, P16_FSTP], yr: [-0.29, 3.19, 1], xlabel: true },
];

const SERIF = '"Liberation Serif", "DejaVu Serif", serif';
const TITLE_FONT = 'bold 22px "DejaVu Serif", serif';
const LABEL_FONT = '22px "Liberation Serif", serif';
const TICK_SIZE = 20;

function fmt(v: number): string {
  const s = String(Number(v.toFixed(3)));
  return s.replace("-", "\u2212");
}

function ticksFor(min: number, max: number, step: number): number[] {
  const out: number[] = [];
  for (let k = Math.ceil(min / step - 1e-9); k * step <= max + 1e-9; k++) out.push(Number((k * step).toFixed(6)));
  return out;
}

function buildOption() {
  const grid: any[] = [];
  const xAxis: any[] = [];
  const yAxis: any[] = [];
  const series: any[] = [];
  const graphic: any[] = [];
  const tickStyle = { show: true, inside: true, length: 4, lineStyle: { color: "#a0a0a0", width: 1 } };
  const noLine = { show: false, onZero: false };

  PANELS.forEach((p, i) => {
    const left = COL_X[p.col];
    const top = ROW_Y[p.row];
    grid.push({ left, top, width: PW, height: PH, show: true, borderColor: "#505050", borderWidth: 1, backgroundColor: "transparent" });
    const [ymin, ymax, step] = p.yr;
    const yt = ticksFor(ymin, ymax, step);
    xAxis.push({
      type: "value", gridIndex: i, min: 0, max: 100, interval: 20, position: "bottom",
      axisLine: noLine, splitLine: { show: false },
      axisTick: { ...tickStyle, customValues: X_TICKS },
      axisLabel: { show: true, customValues: X_TICKS, margin: 6, color: "#000", fontSize: TICK_SIZE, fontFamily: SERIF, formatter: (v: number) => fmt(v) },
    });
    xAxis.push({
      type: "value", gridIndex: i, min: 0, max: 100, interval: 20, position: "top",
      axisLine: noLine, splitLine: { show: false },
      axisTick: { ...tickStyle, customValues: X_TICKS }, axisLabel: { show: false },
    });
    yAxis.push({
      type: "value", gridIndex: i, min: ymin, max: ymax, minInterval: step, maxInterval: step, position: "left",
      axisLine: noLine, splitLine: { show: false },
      axisTick: { ...tickStyle, customValues: yt },
      axisLabel: { show: true, customValues: yt, margin: 7, color: "#000", fontSize: TICK_SIZE, fontFamily: SERIF, formatter: (v: number) => fmt(v) },
    });
    yAxis.push({
      type: "value", gridIndex: i, min: ymin, max: ymax, minInterval: step, maxInterval: step, position: "right",
      axisLine: noLine, splitLine: { show: false },
      axisTick: { ...tickStyle, customValues: yt }, axisLabel: { show: false },
    });
    const xi = 2 * i;
    const yi = 2 * i;
    series.push({
      type: "custom", xAxisIndex: xi, yAxisIndex: yi, clip: true, silent: true, animation: false,
      data: [[0, 0]],
      renderItem: (_params: any, api: any) => {
        const up = p.x.map((xx, k) => api.coord([xx, p.mean[k] + p.sd[k]]));
        const lo = p.x.map((xx, k) => api.coord([xx, p.mean[k] - p.sd[k]])).reverse();
        return { type: "polygon", shape: { points: up.concat(lo), smooth: 0.25 }, style: { fill: SD_COLOR, stroke: "none" } };
      },
    });
    const common = { type: "line", xAxisIndex: xi, yAxisIndex: yi, symbol: "none", smooth: 0.3, smoothMonotone: "x", silent: true, animation: false };
    p.lines.forEach((ln, j) => {
      series.push({ ...common, name: IMU_NAMES[j] + " " + i, data: p.x.map((xx, k) => [xx, ln[k]]), lineStyle: { color: IMU_COLORS[j], width: 1 } });
    });
    series.push({ ...common, name: "Ref. mean " + i, data: p.x.map((xx, k) => [xx, p.mean[k]]), lineStyle: { color: "#000", width: 2 } });

    graphic.push({ type: "text", x: left + PW / 2, y: top - 16, style: { text: p.title, font: TITLE_FONT, fill: "#000", textAlign: "center", textVerticalAlign: "middle" } });
    if (p.xlabel) {
      graphic.push({ type: "text", x: left + PW / 2, y: top + PH + 46, style: { text: X_LABEL, font: LABEL_FONT, fill: "#000", textAlign: "center", textVerticalAlign: "middle" } });
    }
  });

  ROW_LABELS.forEach((lab, r) => {
    graphic.push({ type: "text", x: 15, y: ROW_Y[r] + PH / 2, rotation: Math.PI / 2, style: { text: lab, font: LABEL_FONT, fill: "#000", textAlign: "center", textVerticalAlign: "middle" } });
  });

  [449, 1119].forEach((ly) => {
    const bx = 749, bw = 292, bh = 132;
    graphic.push({ type: "rect", shape: { x: bx, y: ly - 1, width: bw, height: bh }, style: { fill: "#fff", stroke: "#505050", lineWidth: 1 } });
    const rowY = (k: number) => ly + 16 + 24.5 * k;
    const col1 = [
      { name: "Ref. SD", kind: "sd" },
      { name: "Ref. mean", kind: "mean" },
      { name: IMU_NAMES[0], kind: 0 },
      { name: IMU_NAMES[1], kind: 1 },
      { name: IMU_NAMES[2], kind: 2 },
    ];
    const col2 = [3, 4, 5, 6].map((j) => ({ name: IMU_NAMES[j], kind: j }));
    const put = (items: any[], lx: number, tx: number) => {
      items.forEach((it, k) => {
        const y = rowY(k);
        if (it.kind === "sd") {
          graphic.push({ type: "rect", shape: { x: lx, y: y - 6, width: 35, height: 12 }, style: { fill: SD_COLOR } });
        } else if (it.kind === "mean") {
          graphic.push({ type: "line", shape: { x1: lx, y1: y, x2: lx + 35, y2: y }, style: { stroke: "#000", lineWidth: 2 } });
        } else {
          graphic.push({ type: "line", shape: { x1: lx, y1: y, x2: lx + 35, y2: y }, style: { stroke: IMU_COLORS[it.kind], lineWidth: 1.2 } });
        }
        graphic.push({ type: "text", x: tx, y, style: { text: it.name, font: '20px "Liberation Serif", serif', fill: "#000", textAlign: "left", textVerticalAlign: "middle" } });
      });
    };
    put(col1, bx + 8, bx + 49);
    put(col2, bx + 142, bx + 183);
  });

  return {
    animation: false,
    backgroundColor: "#fff",
    textStyle: { fontFamily: SERIF },
    grid, xAxis, yAxis, series, graphic,
  };
}

export default function App() {
  const ref = useRef<HTMLDivElement>(null);
  useEffect(() => {
    document.body.style.margin = "0";
    if (!ref.current) return;
    const chart = echarts.init(ref.current, undefined, { renderer: "svg" });
    chart.setOption(buildOption() as any);
    return () => chart.dispose();
  }, []);
  return <div ref={ref} style={{ width: 1059, height: 1295 }} />;
}
